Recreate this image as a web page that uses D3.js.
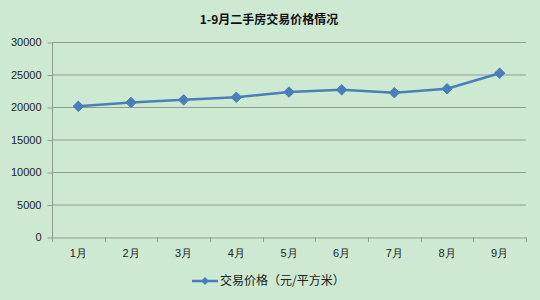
<!DOCTYPE html>
<html>
<head>
<meta charset="utf-8">
<script src="https://cdn.jsdelivr.net/npm/d3@7"></script>
<style>
  body { margin: 0; background: #cde9d1; }
  svg { display: block; font-family: "Noto Sans CJK SC", "Noto Sans", sans-serif; }
</style>
</head>
<body>
<svg id="chart" width="540" height="300"></svg>
<script>
// 1-9月 second-hand housing prices
const months = ["1月", "2月", "3月", "4月", "5月", "6月", "7月", "8月", "9月"];
const prices = [20100, 20700, 21100, 21500, 22300, 22650, 22200, 22800, 25200];
const yTicks = [0, 5000, 10000, 15000, 20000, 25000, 30000];
const seriesName = "交易价格（元/平方米）";
const title = "1-9月二手房交易价格情况";

const W = 540, H = 300;
const M = { top: 42, right: 14, bottom: 63, left: 52 };
const blue = "#4a7ebb";

const svg = d3.select("#chart");
svg.append("rect").attr("width", W).attr("height", H).attr("fill", "#cde9d1");

const x = d3.scaleBand().domain(months).range([M.left, W - M.right]);
const y = d3.scaleLinear().domain([0, 30000]).range([H - M.bottom, M.top]);

// gridlines
svg.append("g")
  .selectAll("line").data(yTicks.filter(d => d > 0)).join("line")
  .attr("x1", M.left).attr("x2", W - M.right)
  .attr("y1", d => y(d) + 0.5).attr("y2", d => y(d) + 0.5)
  .attr("stroke", "#8d9f8f").attr("stroke-width", 1);

// y axis
const yAx = svg.append("g").attr("transform", `translate(${M.left + 0.5},0)`)
  .call(d3.axisLeft(y).tickValues(yTicks).tickSize(5).tickPadding(6).tickFormat(d3.format("d")));
yAx.select(".domain").attr("stroke", "#8d9f8f").attr("d", `M0,${M.top}V${H - M.bottom}`);
yAx.selectAll(".tick line").attr("stroke", "#8d9f8f").attr("transform", "translate(0,0.5)");
yAx.selectAll("text").attr("font-size", 11).attr("fill", "#222")
  .attr("font-family", "'Liberation Sans', Arial, sans-serif");

// x axis
const xAx = svg.append("g").attr("transform", `translate(0,${H - M.bottom + 0.5})`)
  .call(d3.axisBottom(x).tickSize(0).tickPadding(12));
xAx.select(".domain").attr("stroke", "#8d9f8f");
xAx.selectAll("text").attr("font-size", 11).attr("fill", "#222");
// category separators
svg.append("g").selectAll("line")
  .data(months.concat(["end"])).join("line")
  .attr("x1", (d, i) => Math.round(M.left + i * x.bandwidth()) + 0.5)
  .attr("x2", (d, i) => Math.round(M.left + i * x.bandwidth()) + 0.5)
  .attr("y1", H - M.bottom).attr("y2", H - M.bottom + 5)
  .attr("stroke", "#8d9f8f");

// line
const cx = d => x(d) + x.bandwidth() / 2;
svg.append("path")
  .datum(months.map((m, i) => [cx(m), y(prices[i])]))
  .attr("fill", "none").attr("stroke", blue).attr("stroke-width", 2.5)
  .attr("stroke-linejoin", "round")
  .attr("d", d3.line());

const diamond = d3.symbol().type(d3.symbolDiamond2).size(70);
svg.append("g").selectAll("path").data(prices).join("path")
  .attr("transform", (d, i) => `translate(${cx(months[i])},${y(d)})`)
  .attr("d", diamond).attr("fill", blue).attr("stroke", blue).attr("stroke-width", 1);

// title
svg.append("text").attr("x", 269).attr("y", 24).attr("text-anchor", "middle")
  .attr("font-size", 12).attr("font-weight", "bold").attr("fill", "#111")
  .text(title);

// legend
const lg = svg.append("g").attr("transform", "translate(192,281)");
lg.append("line").attr("x1", 0).attr("x2", 26).attr("stroke", blue).attr("stroke-width", 2.5);
lg.append("path").attr("transform", "translate(13,0)").attr("d", d3.symbol().type(d3.symbolDiamond2).size(40)).attr("fill", blue);
lg.append("text").attr("x", 28).attr("y", 4).attr("font-size", 12).attr("fill", "#222").text(seriesName);
</script>
</body>
</html>
